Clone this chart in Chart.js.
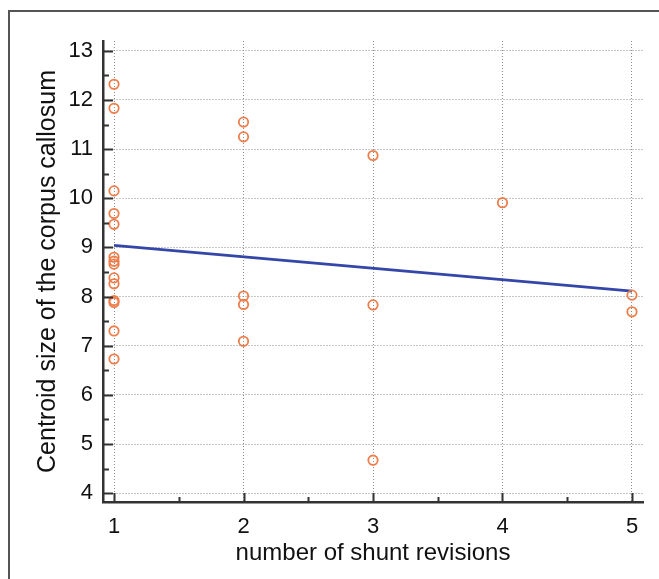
<!DOCTYPE html>
<html>
<head>
<meta charset="utf-8">
<script src="https://cdn.jsdelivr.net/npm/chart.js@4/dist/chart.umd.min.js"></script>
<style>
  html, body { margin: 0; padding: 0; background: #ffffff; }
  #chart { display: block; }
</style>
</head>
<body>
<canvas id="chart" width="659" height="579"></canvas>
<script>
// --- Data ---
const revisions = [
    1, 1, 1, 1, 1, 1, 1, 1, 1, 1, 1, 1, 1, 1,
    2, 2, 2, 2, 2,
    3, 3, 3,
    4,
    5, 5
];
const centroidSize = [
    12.32, 11.83, 10.15, 9.69, 9.47, 8.80, 8.72, 8.66, 8.38, 8.26, 7.92, 7.88, 7.30, 6.73,
    11.55, 11.25, 8.01, 7.84, 7.09,
    10.87, 7.83, 4.67,
    9.91,
    8.03, 7.69
];
// regression line end points
const fitX = [1, 5];
const fitY = [9.04, 8.11];

// axis ticks
const xTicks = [1, 2, 3, 4, 5];
const xMinorTicks = [1.5, 2.5, 3.5, 4.5];
const yTicks = [4, 5, 6, 7, 8, 9, 10, 11, 12, 13];
const yMinorTicks = [4.5, 5.5, 6.5, 7.5, 8.5, 9.5, 10.5, 11.5, 12.5];

const xTitle = 'number of shunt revisions';
const yTitle = 'Centroid size of the corpus callosum';

const pointColor = '#ee7d4a';
const lineColor = '#3446a8';
const axisColor = '#333333';
const textColor = '#111111';
const gridColor = '#8c8c8c';

// frame around the figure plus inward tick marks
const framePlugin = {
    id: 'frame',
    beforeDraw(chart) {
        const ctx = chart.ctx;
        ctx.save();
        ctx.strokeStyle = '#555555';
        ctx.lineWidth = 2;
        ctx.beginPath();
        ctx.moveTo(9, chart.height);
        ctx.lineTo(9, 11);
        ctx.lineTo(chart.width, 11);
        ctx.stroke();
        ctx.restore();
    },
    afterDraw(chart) {
        const ctx = chart.ctx;
        const xs = chart.scales.x;
        const ys = chart.scales.y;
        const area = chart.chartArea;
        ctx.save();
        ctx.strokeStyle = axisColor;
        ctx.lineWidth = 2;
        ctx.beginPath();
        yTicks.forEach(v => {
            const py = Math.round(ys.getPixelForValue(v)) + 0.5;
            ctx.moveTo(area.left, py);
            ctx.lineTo(area.left + 10, py);
        });
        yMinorTicks.forEach(v => {
            const py = Math.round(ys.getPixelForValue(v)) + 0.5;
            ctx.moveTo(area.left, py);
            ctx.lineTo(area.left + 6, py);
        });
        xTicks.forEach(v => {
            const px = Math.round(xs.getPixelForValue(v)) + 0.5;
            ctx.moveTo(px, area.bottom);
            ctx.lineTo(px, area.bottom - 9);
        });
        xMinorTicks.forEach(v => {
            const px = Math.round(xs.getPixelForValue(v)) + 0.5;
            ctx.moveTo(px, area.bottom);
            ctx.lineTo(px, area.bottom - 5);
        });
        ctx.stroke();
        ctx.restore();
    }
};

const points = revisions.map((x, i) => ({ x: x, y: centroidSize[i] }));
const fitLine = fitX.map((x, i) => ({ x: x, y: fitY[i] }));

new Chart(document.getElementById('chart'), {
    type: 'scatter',
    data: {
        datasets: [
            {
                label: 'observations',
                data: points,
                showLine: false,
                pointStyle: 'circle',
                pointRadius: 4.7,
                pointBorderWidth: 1.8,
                pointBorderColor: pointColor,
                pointBackgroundColor: 'rgba(0,0,0,0)',
                borderColor: pointColor,
                backgroundColor: 'rgba(0,0,0,0)',
                order: 0
            },
            {
                label: 'fit',
                data: fitLine,
                showLine: true,
                borderColor: lineColor,
                borderWidth: 2.8,
                pointRadius: 0,
                fill: false,
                order: 1
            }
        ]
    },
    options: {
        responsive: false,
        animation: false,
        devicePixelRatio: 1,
        layout: { padding: { left: 0, right: 16, top: 41, bottom: 0 } },
        plugins: {
            legend: { display: false },
            tooltip: { enabled: false }
        },
        scales: {
            x: {
                type: 'linear',
                min: 0.915,
                max: 5.085,
                afterBuildTicks: s => { s.ticks = xTicks.map(v => ({ value: v })); },
                afterFit: s => { s.height = 77; },
                grid: { color: gridColor, lineWidth: 1, drawTicks: false },
                border: { display: true, color: axisColor, width: 2.5, dash: [1, 2] },
                ticks: {
                    padding: 12,
                    color: textColor,
                    font: { family: 'Liberation Sans, Arial, sans-serif', size: 22 }
                },
                title: {
                    display: true,
                    text: xTitle,
                    color: textColor,
                    padding: { top: 0, bottom: 11 },
                    font: { family: 'Liberation Sans, Arial, sans-serif', size: 24 }
                }
            },
            y: {
                type: 'linear',
                min: 3.82,
                max: 13.2,
                afterBuildTicks: s => { s.ticks = yTicks.map(v => ({ value: v })); },
                afterFit: s => { s.width = 103; },
                grid: { color: gridColor, lineWidth: 1, drawTicks: false },
                border: { display: true, color: axisColor, width: 2.5, dash: [1, 2] },
                ticks: {
                    padding: 10,
                    color: textColor,
                    font: { family: 'Liberation Sans, Arial, sans-serif', size: 22 }
                },
                title: {
                    display: true,
                    text: yTitle,
                    color: textColor,
                    padding: { top: 33, bottom: 0 },
                    font: { family: 'Liberation Sans, Arial, sans-serif', size: 25 }
                }
            }
        }
    },
    plugins: [framePlugin]
});
</script>
</body>
</html>
